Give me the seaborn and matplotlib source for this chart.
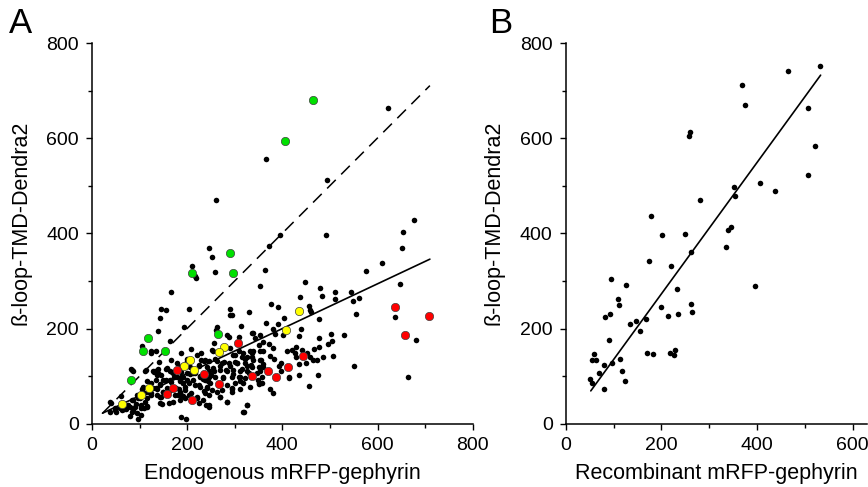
import matplotlib
matplotlib.use("Agg")
import matplotlib.pyplot as plt
import seaborn as sns
from matplotlib.ticker import MultipleLocator

# ---- Panel A: endogenous mRFP-gephyrin vs beta-loop-TMD-Dendra2 ----
a_black = [
    (621, 663), (366, 556), (494, 513), (261, 470), (677, 428), (653, 403), (396, 396), (492, 396),
    (652, 369), (371, 374), (245, 369), (252, 351), (210, 332), (217, 311), (218, 306), (259, 319),
    (364, 324), (576, 322), (609, 337), (647, 294), (354, 290), (166, 276), (448, 297), (479, 286),
    (483, 269), (437, 267), (511, 278), (545, 278), (549, 258), (510, 262), (560, 265), (554, 231),
    (529, 186), (502, 189), (505, 174), (495, 167), (507, 142), (477, 181), (477, 162), (485, 140),
    (464, 134), (472, 133), (475, 102), (637, 225), (551, 122), (665, 98), (680, 175), (456, 247),
    (458, 240), (460, 234), (440, 199), (436, 184), (478, 220), (429, 161), (452, 149), (449, 127),
    (436, 125), (434, 103), (456, 79), (413, 98),
    (404, 222), (391, 246), (376, 252), (366, 211), (391, 210), (380, 199), (371, 168), (359, 152),
    (375, 142), (353, 187), (337, 190), (329, 234), (289, 241), (289, 229), (295, 228), (283, 187),
    (313, 205), (262, 204), (261, 197), (203, 241), (193, 203), (256, 169), (209, 157), (220, 144),
    (164, 174), (146, 241), (155, 239), (142, 222), (138, 194), (326, 140), (334, 123), (300, 130),
    (308, 153), (325, 121), (346, 106), (329, 106), (348, 92), (350, 83), (373, 74), (380, 64),
    (393, 122), (398, 127), (398, 111), (413, 96), (325, 39), (320, 25), (283, 46), (294, 67),
    (295, 76), (310, 90), (312, 99), (296, 105), (315, 114), (336, 141), (276, 98), (282, 113),
    (289, 121), (278, 130), (270, 121), (259, 136), (256, 111), (255, 152), (249, 102), (244, 90),
    (235, 132), (230, 148), (224, 121), (242, 76), (262, 67), (268, 57), (235, 69), (220, 55),
    (207, 64), (191, 58), (184, 67), (195, 77), (200, 91), (187, 98), (191, 86), (172, 98),
    (167, 87), (157, 76), (150, 67), (143, 57), (148, 41), (156, 91), (142, 84), (135, 76),
    (146, 103), (131, 108), (138, 115), (141, 130), (123, 148), (156, 116), (165, 133), (188, 148),
    (199, 137), (205, 105), (216, 107), (212, 92), (226, 100), (233, 94), (225, 81), (190, 121),
    (178, 127), (169, 108), (188, 109), (184, 90), (177, 76), (161, 68), (181, 60), (196, 55),
    (188, 15), (197, 9), (240, 39), (245, 36), (97, 9), (109, 32), (104, 39), (115, 37),
    (101, 53), (92, 41), (85, 49), (80, 35), (72, 30), (80, 16), (67, 31), (60, 58),
    (51, 25), (40, 43), (38, 25), (49, 32), (63, 29), (87, 29), (95, 60), (109, 64),
    (105, 74), (116, 55), (125, 64), (129, 76), (123, 86), (116, 90), (135, 92), (136, 102),
    (81, 116), (84, 113), (105, 163), (113, 113), (125, 152), (135, 152), (331, 152), (338, 152),
    (354, 152), (339, 134), (322, 135), (297, 144), (305, 127), (318, 148), (381, 160), (383, 137),
    (359, 125), (355, 133), (384, 189), (401, 187), (410, 153), (420, 155), (426, 148), (428, 141),
    (467, 157),
    (228, 134), (238, 134), (224, 123), (241, 120), (245, 110), (132, 110), (139, 106), (157, 117),
    (164, 110), (199, 131), (206, 120), (185, 120), (171, 106), (178, 99), (192, 99), (199, 106),
    (213, 106), (227, 99), (238, 92), (150, 92), (164, 92), (143, 81), (136, 74), (192, 85),
    (203, 85), (217, 81), (227, 78), (241, 78), (182, 74), (196, 71), (164, 71), (150, 67),
    (136, 60), (146, 57), (174, 60), (188, 60), (203, 60), (220, 57), (238, 64), (234, 50),
    (185, 50), (171, 46), (143, 43), (161, 43), (224, 43),
    (287, 183), (308, 183), (339, 190), (343, 180), (350, 166), (252, 155), (290, 159), (301, 144),
    (315, 141), (336, 148), (353, 134), (245, 131), (262, 131), (273, 127), (287, 127), (304, 127),
    (322, 127), (336, 120), (350, 120), (255, 117), (269, 113), (283, 110), (297, 113), (311, 110),
    (325, 110), (353, 110), (245, 99), (259, 99), (276, 96), (294, 99), (308, 99), (322, 96),
    (357, 99), (248, 85), (266, 81), (283, 81), (301, 85), (318, 85), (350, 85), (252, 71),
    (273, 71), (294, 74), (311, 74), (332, 78), (245, 60), (269, 57), (283, 46), (245, 39),
    (325, 39), (318, 25),
    (87, 110), (111, 110), (129, 110), (108, 78), (118, 67), (125, 60), (38, 46), (48, 29),
    (59, 32), (76, 39), (87, 50), (97, 53), (111, 46), (90, 36), (104, 32), (115, 36),
    (83, 25), (94, 22), (104, 18),
    (360, 172), (441, 155), (458, 141), (360, 120), (357, 85),
]
a_black_x = [p[0] for p in a_black]
a_black_y = [p[1] for p in a_black]

a_green_x = [465, 406, 291, 296, 211, 117, 107, 153, 264, 81]
a_green_y = [681, 595, 360, 317, 317, 181, 153, 153, 189, 92]
a_yellow_x = [435, 407, 277, 267, 205, 193, 214, 120, 102, 62]
a_yellow_y = [236, 196, 161, 151, 133, 121, 112, 76, 60, 42]
a_red_x = [636, 708, 658, 306, 443, 412, 386, 370, 337, 235, 179, 266, 171, 158, 211]
a_red_y = [245, 227, 186, 170, 142, 119, 99, 110, 101, 105, 112, 84, 76, 62, 49]

# fitted lines (end points)
a_fit_x = [22, 710]
a_fit_y = [22, 346]
a_unity_x = [22, 710]
a_unity_y = [22, 711]

# ---- Panel B: recombinant mRFP-gephyrin ----
b_x = [532, 465, 369, 375, 507, 260, 258, 521, 506, 406, 352, 437, 354, 280, 179, 346, 340, 250,
       201, 335, 261, 173, 220, 94, 125, 396, 232, 108, 112, 262, 200, 264, 235, 93, 213, 82,
       167, 147, 135, 155, 90, 170, 183, 218, 226, 228, 59, 54, 62, 114, 96, 80, 70, 117,
       51, 55, 123, 79]
b_y = [752, 741, 712, 671, 663, 613, 606, 584, 522, 507, 497, 490, 478, 470, 437, 414, 407, 398,
       396, 371, 361, 342, 332, 305, 292, 289, 283, 262, 250, 251, 245, 234, 231, 231, 226, 225,
       220, 215, 209, 195, 177, 149, 147, 148, 144, 155, 146, 133, 133, 135, 128, 123, 107, 111,
       95, 85, 90, 74]
b_fit_x = [52, 533]
b_fit_y = [69, 733]

sns.set_style("ticks")
plt.rcParams['font.family'] = ['Liberation Sans', 'DejaVu Sans']
plt.rcParams['text.color'] = 'black'
plt.rcParams['axes.labelcolor'] = 'black'
plt.rcParams['xtick.color'] = 'black'
plt.rcParams['ytick.color'] = 'black'

fig = plt.figure(figsize=(8.68, 4.87), dpi=100)
ax_a = fig.add_axes([0.106, 0.130, 0.4386, 0.7811])
ax_b = fig.add_axes([0.652, 0.130, 0.3468, 0.7811])

dot = dict(color='black', s=16, linewidth=0, zorder=3)
big = dict(s=36, linewidth=0.5, edgecolor='#404040', zorder=4)

sns.scatterplot(x=a_black_x, y=a_black_y, ax=ax_a, **dot)
sns.lineplot(x=a_unity_x, y=a_unity_y, ax=ax_a, color='black', linewidth=1.1,
             zorder=2).lines[-1].set_dashes((8, 5))
sns.lineplot(x=a_fit_x, y=a_fit_y, ax=ax_a, color='black', linewidth=1.2, zorder=2)
sns.scatterplot(x=a_green_x, y=a_green_y, ax=ax_a, color='#00e000', **big)
sns.scatterplot(x=a_yellow_x, y=a_yellow_y, ax=ax_a, color='#ffff00', **big)
sns.scatterplot(x=a_red_x, y=a_red_y, ax=ax_a, color='#ff0000', **big)

sns.scatterplot(x=b_x, y=b_y, ax=ax_b, **dot)
sns.lineplot(x=b_fit_x, y=b_fit_y, ax=ax_b, color='black', linewidth=1.2, zorder=2)

for ax, xmax, xlabel in [(ax_a, 800, 'Endogenous mRFP-gephyrin'),
                         (ax_b, 630, 'Recombinant mRFP-gephyrin')]:
    ax.set_xlim(0, xmax)
    ax.set_ylim(0, 800)
    ax.xaxis.set_major_locator(MultipleLocator(200))
    ax.xaxis.set_minor_locator(MultipleLocator(100))
    ax.yaxis.set_major_locator(MultipleLocator(200))
    ax.yaxis.set_minor_locator(MultipleLocator(100))
    ax.tick_params(which='major', length=4.5, width=1, colors='black', pad=5, labelsize=14)
    ax.tick_params(which='minor', length=2.6, width=1, colors='black')
    for s in ['top', 'right']:
        ax.spines[s].set_visible(False)
    for s in ['left', 'bottom']:
        ax.spines[s].set_linewidth(1.1)
        ax.spines[s].set_color('black')
    ax.set_xlabel(xlabel, fontsize=15.5, color='black')
    ax.set_ylabel('ß-loop-TMD-Dendra2', fontsize=15.5, color='black')

ax_a.yaxis.set_label_coords(-0.158, 0.528)
ax_b.yaxis.set_label_coords(-0.203, 0.528)
ax_a.xaxis.set_label_coords(0.5, -0.103)
ax_b.xaxis.set_label_coords(0.5, -0.103)

fig.text(0.010, 0.986, 'A', fontsize=25, va='top', ha='left', color='black')
fig.text(0.563, 0.986, 'B', fontsize=25, va='top', ha='left', color='black')

fig.savefig('out.png', dpi=100)
